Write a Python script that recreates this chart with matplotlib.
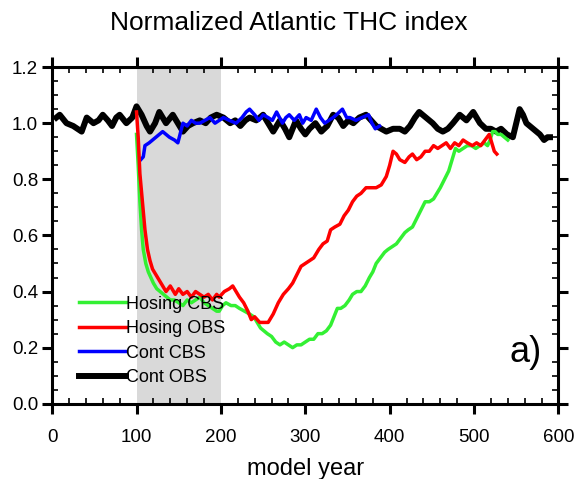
import numpy as np
import matplotlib
matplotlib.use("Agg")
import matplotlib.pyplot as plt
from matplotlib.ticker import MultipleLocator

plt.rcParams['font.family'] = ['Liberation Sans', 'DejaVu Sans']

"""
Normalized THC index for control and hosing runs
"""
cont_obs_year = [5, 9, 17, 25, 35, 41, 49, 55, 60, 66, 71, 76, 80, 88, 95, 100, 106, 112, 116,
                 122, 127, 135, 143, 149, 155, 161, 167, 175, 182, 188, 195, 203, 211, 217, 223,
                 229, 234, 242, 250, 256, 262, 270, 276, 281, 285, 289, 295, 300, 305, 312, 319,
                 326, 333, 339, 345, 351, 357, 364, 372, 378, 384, 390, 396, 404, 412, 418, 424,
                 430, 435, 443, 451, 457, 463, 469, 475, 483, 491, 499, 507, 514, 520, 526, 532,
                 539, 546, 550, 554, 558, 562, 570, 578, 583, 587, 590]
cont_obs = [1.02, 1.03, 1.00, 0.99, 0.97, 1.02, 1.00, 1.01, 1.03, 1.01, 0.99, 1.02, 1.03, 1.00,
            1.02, 1.06, 1.03, 0.99, 0.97, 1.00, 1.04, 1.00, 1.03, 1.00, 0.97, 0.99, 1.00, 1.01,
            1.00, 1.02, 1.03, 1.02, 1.00, 1.01, 0.99, 1.01, 1.02, 1.01, 1.03, 1.00, 0.97, 1.01,
            0.98, 0.95, 0.98, 1.01, 0.98, 0.96, 0.98, 1.00, 0.97, 0.99, 1.03, 1.02, 0.99, 1.01,
            1.00, 1.02, 1.03, 1.01, 0.99, 0.98, 0.97, 0.98, 0.98, 0.97, 0.99, 1.02, 1.04, 1.02,
            1.00, 0.98, 0.97, 0.98, 1.00, 1.03, 1.01, 1.04, 1.00, 0.98, 0.98, 0.97, 0.98, 0.96,
            0.95, 1.00, 1.05, 1.03, 1.00, 0.98, 0.96, 0.94, 0.95, 0.95]

cont_cbs_year = [105, 108, 110, 115, 123, 131, 139, 145, 149, 155, 160, 165, 170, 175, 181, 187,
                 193, 198, 203, 210, 218, 225, 230, 234, 240, 245, 250, 256, 261, 266, 273, 277,
                 281, 287, 293, 297, 301, 307, 313, 318, 323, 328, 333, 337, 344, 349, 353, 360,
                 367, 375, 379, 383, 388]
cont_cbs = [0.87, 0.88, 0.92, 0.93, 0.95, 0.97, 0.95, 0.94, 0.93, 1.00, 0.99, 1.01, 1.00, 1.00,
            1.01, 1.02, 1.00, 1.01, 1.02, 1.01, 1.00, 1.02, 1.04, 1.05, 1.03, 1.01, 1.03, 1.02,
            1.01, 1.04, 1.00, 1.02, 1.03, 1.01, 1.03, 1.00, 1.02, 1.01, 1.05, 1.02, 1.00, 1.01,
            1.02, 1.03, 1.05, 1.02, 1.02, 1.01, 1.02, 1.03, 1.00, 0.98, 0.99]

hos_obs_year = [100, 102, 104, 107, 110, 113, 116, 119, 123, 127, 131, 135, 140, 146, 150, 155,
                160, 165, 170, 175, 180, 185, 190, 195, 198, 204, 210, 214, 218, 222, 227, 232,
                236, 240, 246, 251, 256, 262, 268, 274, 280, 285, 290, 295, 300, 305, 310, 316,
                321, 326, 330, 335, 341, 346, 351, 356, 361, 366, 372, 378, 384, 390, 396, 400,
                404, 408, 412, 418, 423, 427, 432, 437, 442, 447, 452, 457, 462, 467, 472, 477,
                482, 487, 492, 498, 503, 508, 513, 518, 521, 524, 527]
hos_obs = [1.04, 0.95, 0.82, 0.72, 0.62, 0.55, 0.51, 0.48, 0.46, 0.44, 0.42, 0.40, 0.42, 0.39,
           0.41, 0.39, 0.40, 0.38, 0.40, 0.39, 0.38, 0.39, 0.37, 0.39, 0.38, 0.40, 0.41, 0.42,
           0.40, 0.38, 0.36, 0.33, 0.30, 0.31, 0.29, 0.29, 0.29, 0.32, 0.36, 0.39, 0.41, 0.43,
           0.46, 0.49, 0.50, 0.51, 0.52, 0.55, 0.57, 0.58, 0.62, 0.63, 0.64, 0.67, 0.69, 0.72,
           0.74, 0.75, 0.77, 0.77, 0.77, 0.78, 0.81, 0.85, 0.90, 0.89, 0.87, 0.86, 0.88, 0.89,
           0.87, 0.88, 0.90, 0.90, 0.92, 0.91, 0.92, 0.93, 0.91, 0.93, 0.92, 0.94, 0.93, 0.92,
           0.93, 0.92, 0.94, 0.96, 0.93, 0.90, 0.89]

hos_cbs_year = [100, 102, 104, 106, 108, 111, 114, 117, 120, 124, 128, 132, 136, 140, 145, 150,
                155, 160, 165, 170, 175, 180, 185, 190, 195, 198, 202, 206, 212, 217, 222, 228,
                234, 239, 243, 247, 251, 255, 260, 265, 270, 275, 280, 285, 290, 295, 300, 305,
                310, 315, 320, 325, 330, 334, 338, 342, 347, 352, 356, 361, 366, 371, 376, 380,
                384, 389, 394, 398, 403, 408, 413, 418, 422, 427, 432, 437, 442, 447, 452, 456,
                460, 465, 470, 474, 478, 482, 487, 492, 497, 502, 507, 512, 516, 519, 522, 525,
                528, 532, 536, 540]
hos_cbs = [0.96, 0.85, 0.72, 0.62, 0.55, 0.50, 0.47, 0.45, 0.43, 0.41, 0.40, 0.39, 0.38, 0.37,
           0.37, 0.36, 0.35, 0.37, 0.36, 0.37, 0.38, 0.36, 0.35, 0.34, 0.33, 0.33, 0.35, 0.36,
           0.35, 0.35, 0.34, 0.33, 0.32, 0.31, 0.29, 0.27, 0.26, 0.25, 0.24, 0.22, 0.21, 0.22,
           0.21, 0.20, 0.21, 0.21, 0.22, 0.23, 0.23, 0.25, 0.25, 0.26, 0.28, 0.31, 0.34, 0.34,
           0.35, 0.37, 0.39, 0.40, 0.40, 0.42, 0.45, 0.47, 0.50, 0.52, 0.54, 0.55, 0.56, 0.57,
           0.59, 0.61, 0.62, 0.63, 0.66, 0.69, 0.72, 0.72, 0.73, 0.75, 0.77, 0.80, 0.83, 0.87,
           0.91, 0.90, 0.91, 0.92, 0.92, 0.91, 0.92, 0.93, 0.92, 0.94, 0.97, 0.97, 0.96, 0.96,
           0.95, 0.94]

hosing_period = (100, 200)

fig = plt.figure(figsize=(5.76, 4.79), dpi=100)
ax = fig.add_axes([0.0905, 0.157, 0.879, 0.703])

ax.axvspan(hosing_period[0], hosing_period[1], color='#d9d9d9', lw=0, zorder=0)

l_black, = ax.plot(cont_obs_year, cont_obs, color='black', lw=4.3, label='Cont OBS', zorder=2,
                   solid_joinstyle='round')
l_blue, = ax.plot(cont_cbs_year, cont_cbs, color='#0000ff', lw=2.5, label='Cont CBS', zorder=3,
                  solid_joinstyle='round')
l_green, = ax.plot(hos_cbs_year, hos_cbs, color='#33f033', lw=2.5, label='Hosing CBS', zorder=4,
                   solid_joinstyle='round')
l_red, = ax.plot(hos_obs_year, hos_obs, color='#ff0000', lw=2.5, label='Hosing OBS', zorder=5,
                 solid_joinstyle='round')

leg = ax.legend(handles=[l_green, l_red, l_blue, l_black], loc='lower left',
                bbox_to_anchor=(0.035, 0.025), frameon=False, fontsize=13,
                handlelength=2.6, handletextpad=0.0, labelspacing=0.42, borderpad=0)
leg.set_zorder(6)

ax.text(0.967, 0.1, 'a)', transform=ax.transAxes, fontsize=26, ha='right', va='bottom')

ax.set_xlim(0, 600)
ax.set_ylim(0, 1.2)
ax.xaxis.set_major_locator(MultipleLocator(100))
ax.xaxis.set_minor_locator(MultipleLocator(20))
ax.yaxis.set_major_locator(MultipleLocator(0.2))
ax.yaxis.set_minor_locator(MultipleLocator(0.05))
ax.yaxis.set_major_formatter(matplotlib.ticker.FormatStrFormatter('%.1f'))

ax.tick_params(which='major', direction='out', length=7, width=2.2, labelsize=13.5,
               top=True, right=True)
ax.tick_params(axis='x', which='major', pad=11)
ax.tick_params(axis='y', which='major', pad=3)
ax.tick_params(which='minor', direction='in', length=4, width=1.2, top=True, right=True)
for s in ax.spines.values():
    s.set_linewidth(2.2)

ax.set_xlabel('model year', fontsize=17, labelpad=9)
ax.set_title('Normalized Atlantic THC index', fontsize=19, pad=27, x=0.468)

plt.savefig('out.png', dpi=100)
